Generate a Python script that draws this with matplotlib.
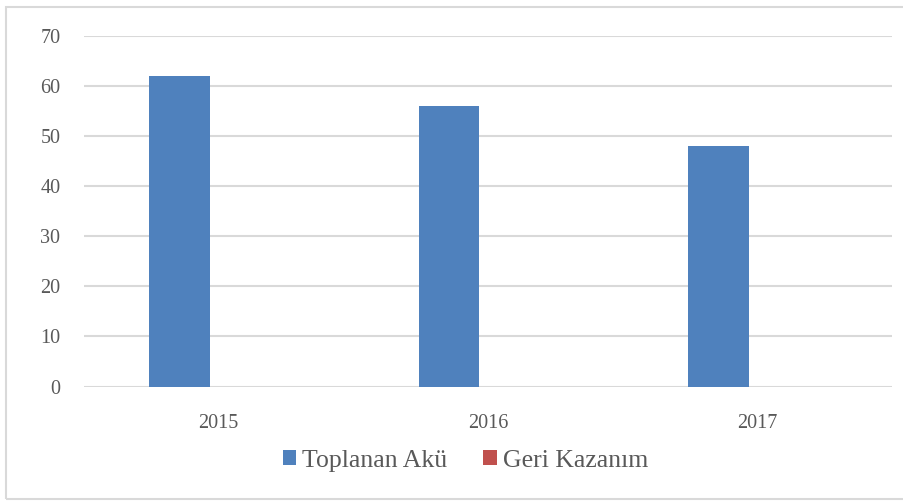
import numpy as np
import matplotlib
matplotlib.use("Agg")
import matplotlib.pyplot as plt
from matplotlib.patches import Rectangle

years = ["2015", "2016", "2017"]
toplanan_aku = [62, 56, 48]
geri_kazanim = [0, 0, 0]
y_ticks = [0, 10, 20, 30, 40, 50, 60, 70]

blue = "#4F81BD"
red = "#C0504D"
grid_col = "#D9D9D9"
text_col = "#595959"

plt.rcParams["font.family"] = ["Liberation Serif", "DejaVu Serif"]

fig = plt.figure(figsize=(9.04, 5.01), dpi=100)
ax = fig.add_axes([84 / 904, 1 - 386.5 / 501, 808 / 904, 350.8 / 501])

x = np.arange(len(years))
w = 0.2245
ax.bar(x - 0.145, toplanan_aku, width=w, color=blue, label="Toplanan Akü", zorder=3)
ax.bar(x - 0.145 + w, geri_kazanim, width=w, color=red, label="Geri Kazanım", zorder=3)

ax.set_xlim(-0.5, len(years) - 0.5)
ax.set_ylim(0, 70)
ax.set_yticks(y_ticks)
ax.set_yticklabels([str(v) for v in y_ticks])
ax.set_xticks(x)
ax.set_xticklabels(years)
ax.tick_params(axis="both", length=0, labelsize=14.5, colors=text_col)
ax.tick_params(axis="y", pad=17)
ax.tick_params(axis="x", pad=20)
ax.yaxis.grid(True, color=grid_col, linewidth=1.5, zorder=0)
ax.set_axisbelow(True)
for s in ax.spines.values():
    s.set_visible(False)

leg = fig.legend(loc="center", bbox_to_anchor=(465.5 / 904, 1 - 461 / 501), ncol=2,
                 frameon=False, fontsize=18.5, handlelength=0.52, handleheight=0.52,
                 handletextpad=0.25, columnspacing=1.4, borderpad=0)
for t in leg.get_texts():
    t.set_color(text_col)

# outer chart border
fig.patches.append(Rectangle((6 / 904, 2 / 501), 1.0, 1 - 8.7 / 501,
                             transform=fig.transFigure, fill=False,
                             edgecolor=grid_col, linewidth=1.5))

fig.savefig("out.png", dpi=100)
